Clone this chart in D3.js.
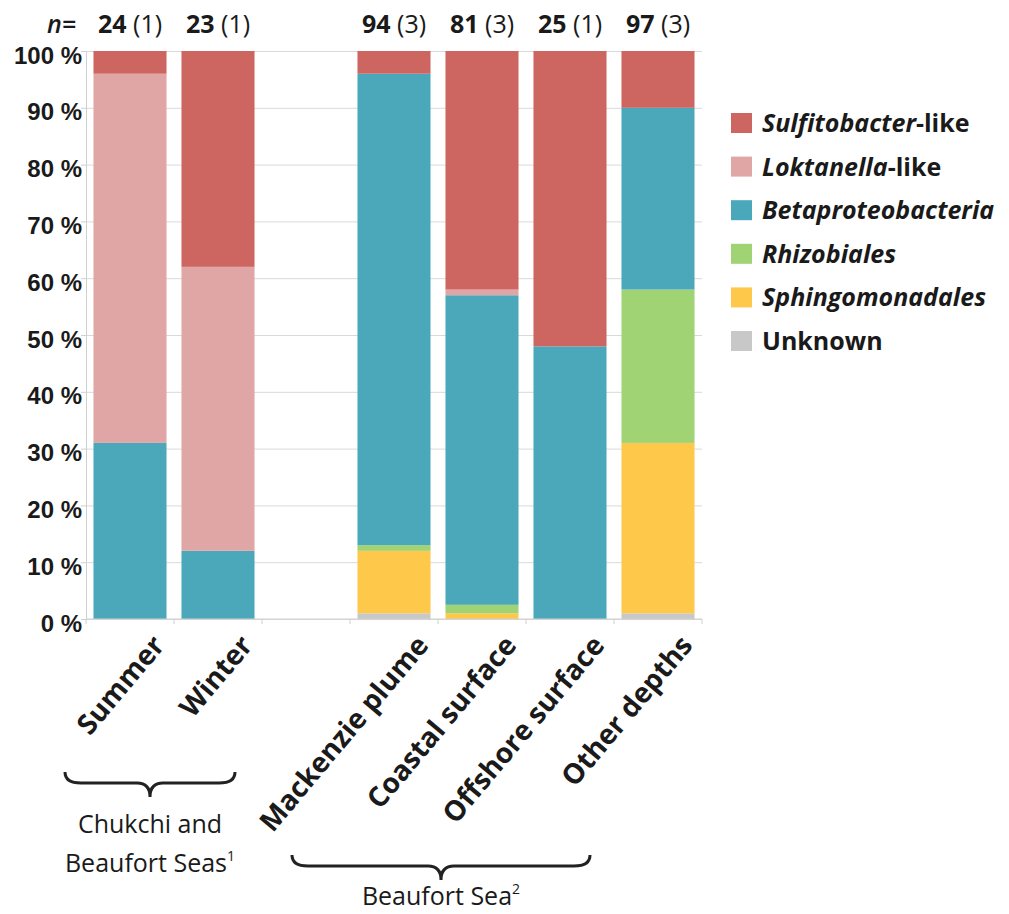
<!DOCTYPE html>
<html>
<head>
<meta charset="utf-8">
<script src="https://cdn.jsdelivr.net/npm/d3@7"></script>
<style>
  body { margin: 0; background: #fff; }
  .axis path, .axis line { stroke: #d0d0d0; }
  .grid line { stroke: #d9d9d9; }
  .grid path { display: none; }
  .ylab text { font-family: "Liberation Sans", Arial, sans-serif; font-weight: bold; font-size: 24px; fill: #1a1a1a; }
  .lab { font-family: "Open Sans", sans-serif; fill: #1a1a1a; }
</style>
</head>
<body>
<script>
// categories (the empty slot separates the two regions)
var categories = ["Summer", "Winter", "gap", "Mackenzie plume", "Coastal surface", "Offshore surface", "Other depths"];
var nClones = [24, 23, null, 94, 81, 25, 97];
var nStations = [1, 1, null, 3, 3, 1, 3];

// percentages per group
var unknown            = [0, 0, 0, 1, 0, 0, 1];
var sphingomonadales   = [0, 0, 0, 11, 1, 0, 30];
var rhizobiales        = [0, 0, 0, 1, 1.5, 0, 27];
var betaproteobacteria = [31, 12, 0, 83, 54.5, 48, 32];
var loktanella         = [65, 50, 0, 0, 1, 0, 0];
var sulfitobacter      = [4, 38, 0, 4, 42, 52, 10];

var yTicks = [0, 10, 20, 30, 40, 50, 60, 70, 80, 90, 100];

var keys = ["unknown", "sphingo", "rhizo", "beta", "lokt", "sulfito"];
var colors = {
  sulfito: "#cd6561", lokt: "#e0a6a5", beta: "#4ba8ba",
  rhizo: "#a0d373", sphingo: "#fec84a", unknown: "#c8c8c8"
};
// legend goes top to bottom
var legendItems = [
  { key: "sulfito", name: "Sulfitobacter", suffix: "-like" },
  { key: "lokt", name: "Loktanella", suffix: "-like" },
  { key: "beta", name: "Betaproteobacteria", suffix: "" },
  { key: "rhizo", name: "Rhizobiales", suffix: "" },
  { key: "sphingo", name: "Sphingomonadales", suffix: "" },
  { key: "unknown", name: "", suffix: "Unknown" }
];

var groups = [
  { lines: ["Chukchi and", "Beaufort Seas"], sup: "1", x1: 65, x2: 235, y: 772, textY: 833 },
  { lines: ["Beaufort Sea"], sup: "2", x1: 292, x2: 590, y: 855, textY: 905 }
];

var width = 1009, height = 914;
var plot = { left: 86, right: 702, top: 51, bottom: 619 };

var svg = d3.select("body").append("svg")
  .attr("width", width)
  .attr("height", height);

// build rows for the stack
var rows = categories.map(function (c, i) {
  return {
    cat: c,
    unknown: unknown[i], sphingo: sphingomonadales[i], rhizo: rhizobiales[i],
    beta: betaproteobacteria[i], lokt: loktanella[i], sulfito: sulfitobacter[i]
  };
});
var stacked = d3.stack().keys(keys)(rows);

var x = d3.scaleBand().domain(categories)
  .range([plot.left, plot.right])
  .paddingInner(0.17).paddingOuter(0.085);
var y = d3.scaleLinear().domain([0, 100]).range([plot.bottom, plot.top]);

// gridlines
svg.append("g")
  .attr("class", "grid")
  .attr("transform", "translate(" + plot.left + ",0)")
  .call(d3.axisLeft(y).tickValues(yTicks).tickSize(-(plot.right - plot.left)).tickFormat(""));

// y axis
svg.append("g")
  .attr("class", "axis ylab")
  .attr("transform", "translate(" + plot.left + ",0)")
  .call(d3.axisLeft(y).tickValues(yTicks).tickSize(5).tickPadding(0)
    .tickFormat(function (d) { return d + " %"; }))
  .call(function (g) { g.selectAll("text").attr("dy", "0.5em").attr("x", -4); });

// bars
svg.append("g").selectAll("g")
  .data(stacked)
  .join("g")
  .attr("fill", function (d) { return colors[d.key]; })
  .selectAll("rect")
  .data(function (d) { return d.filter(function (v) { return v[1] > v[0]; }); })
  .join("rect")
  .attr("x", function (d) { return x(d.data.cat); })
  .attr("width", x.bandwidth())
  .attr("y", function (d) { return y(d[1]); })
  .attr("height", function (d) { return y(d[0]) - y(d[1]); });

// x axis baseline + ticks between categories
var xAxis = svg.append("g").attr("class", "axis");
xAxis.append("line")
  .attr("x1", plot.left).attr("x2", plot.right)
  .attr("y1", plot.bottom).attr("y2", plot.bottom);
xAxis.selectAll(".tk")
  .data(d3.range(categories.length + 1))
  .join("line")
  .attr("x1", function (i) { return plot.left + i * x.step(); })
  .attr("x2", function (i) { return plot.left + i * x.step(); })
  .attr("y1", plot.bottom).attr("y2", plot.bottom + 5);

// rotated category labels
svg.append("g").selectAll("text")
  .data(categories.filter(function (c) { return c !== "gap"; }))
  .join("text")
  .attr("class", "lab")
  .attr("text-anchor", "end")
  .attr("font-size", 28)
  .attr("font-weight", 700)
  .attr("transform", function (c) {
    return "translate(" + (x(c) + x.bandwidth() / 2 + 36) + "," + 646 + ") rotate(-50)";
  })
  .text(function (c) { return c; });

// n= labels
svg.append("text")
  .attr("class", "lab")
  .attr("x", 76).attr("y", 33)
  .attr("text-anchor", "end")
  .attr("font-size", 25)
  .attr("font-style", "italic")
  .attr("font-weight", 600)
  .text("n=");

var nLab = svg.append("g").selectAll("text")
  .data(categories.map(function (c, i) { return { cat: c, n: nClones[i], s: nStations[i] }; })
    .filter(function (d) { return d.n !== null; }))
  .join("text")
  .attr("class", "lab")
  .attr("x", function (d) { return x(d.cat) + x.bandwidth() / 2; })
  .attr("y", 33)
  .attr("text-anchor", "middle")
  .attr("font-size", 25);
nLab.append("tspan").attr("font-weight", 700).text(function (d) { return d.n + " "; });
nLab.append("tspan").text(function (d) { return "(" + d.s + ")"; });

// legend
var legend = svg.append("g").selectAll("g")
  .data(legendItems)
  .join("g")
  .attr("transform", function (d, i) { return "translate(731," + (113 + i * 43.6) + ")"; });
legend.append("rect")
  .attr("width", 21).attr("height", 20)
  .attr("fill", function (d) { return colors[d.key]; });
var lt = legend.append("text")
  .attr("class", "lab")
  .attr("x", 31).attr("y", 19)
  .attr("font-size", 25)
  .attr("font-weight", 700);
lt.append("tspan").attr("font-style", "italic").text(function (d) { return d.name; });
lt.append("tspan").text(function (d) { return d.suffix; });

// braces with region names
function bracePath(x1, x2, y0) {
  var xm = (x1 + x2) / 2, h = 11, tip = 25;
  return "M" + x1 + "," + y0 +
    " Q" + x1 + "," + (y0 + h) + " " + (x1 + 16) + "," + (y0 + h) +
    " L" + (xm - 13) + "," + (y0 + h) +
    " Q" + xm + "," + (y0 + h) + " " + xm + "," + (y0 + tip) +
    " Q" + xm + "," + (y0 + h) + " " + (xm + 13) + "," + (y0 + h) +
    " L" + (x2 - 16) + "," + (y0 + h) +
    " Q" + x2 + "," + (y0 + h) + " " + x2 + "," + y0;
}
var br = svg.append("g").selectAll("g")
  .data(groups)
  .join("g");
br.append("path")
  .attr("d", function (d) { return bracePath(d.x1, d.x2, d.y); })
  .attr("fill", "none")
  .attr("stroke", "#222")
  .attr("stroke-width", 3);
br.each(function (d) {
  var g = d3.select(this);
  var xm = (d.x1 + d.x2) / 2;
  d.lines.forEach(function (line, i) {
    var t = g.append("text")
      .attr("class", "lab")
      .attr("x", xm).attr("y", d.textY + i * 39)
      .attr("text-anchor", "middle")
      .attr("font-size", 25)
      .text(line);
    if (i === d.lines.length - 1) {
      t.append("tspan").attr("font-size", 14).attr("dy", -11).text(d.sup);
    }
  });
});
</script>
</body>
</html>
